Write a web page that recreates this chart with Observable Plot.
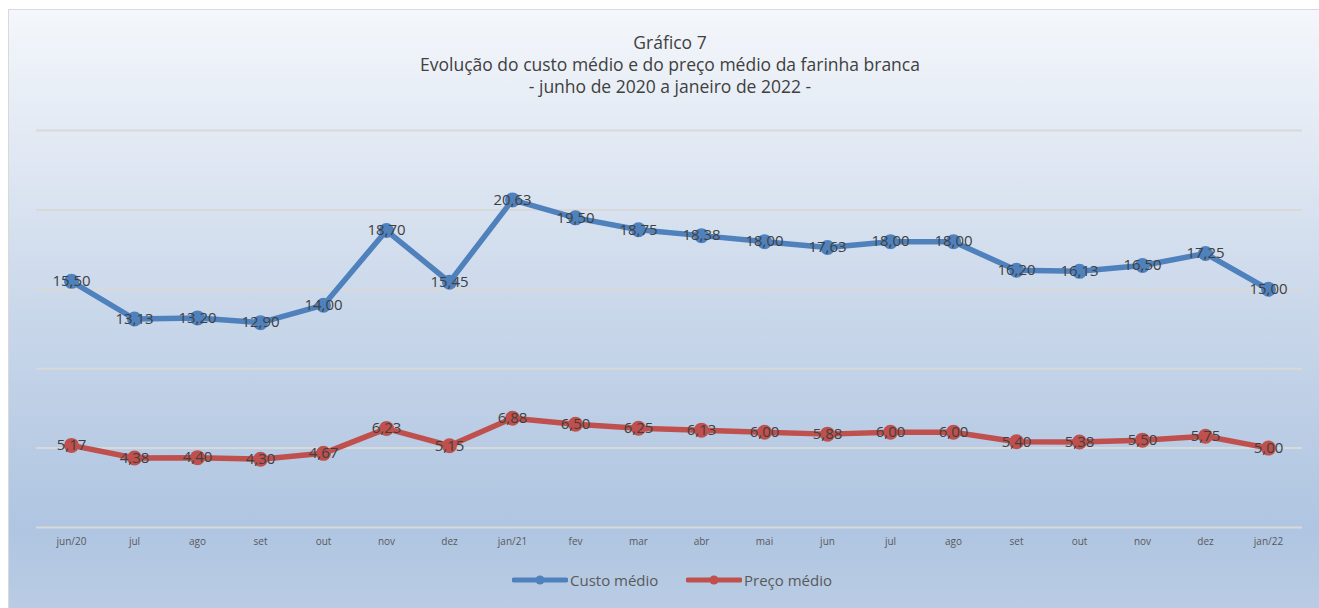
<!DOCTYPE html>
<html>
<head>
<meta charset="utf-8">
<script src="https://cdn.jsdelivr.net/npm/d3@7"></script>
<script src="https://cdn.jsdelivr.net/npm/@observablehq/plot@0.6"></script>
<style>
  html, body { margin: 0; padding: 0; background: #ffffff; }
  #wrap { position: relative; width: 1319px; height: 608px; overflow: hidden; font-family: "Open Sans", "Noto Sans", sans-serif; }
  #frame { position: absolute; left: 8px; top: 9px; width: 1320px; height: 610px; border-top: 1.5px solid #d9d9d9; border-left: 1.5px solid #d9d9d9;
    background: linear-gradient(to bottom, #f4f7fb 0%, #e3eaf4 20%, #c9d7ea 50%, #afc5e1 85%, #bccde5 100%); }
  #title { position: absolute; left: 0; width: 1340px; top: 31px; text-align: center; color: #404040; font-size: 17.5px; line-height: 22px; }
  #chart { position: absolute; left: 0; top: 0; }
  #legend { position: absolute; top: 570px; left: 0; width: 1319px; height: 20px; font-size: 15px; color: #595959; }
  .lg { position: absolute; top: 0; display: flex; align-items: center; height: 20px; }
  .lg svg { margin-right: 2px; }
</style>
</head>
<body>
<div id="wrap">
  <div id="frame"></div>
  <div id="title">Gráfico 7<br>Evolução do custo médio e do preço médio da farinha branca<br>- junho de 2020 a janeiro de 2022 -</div>
  <div id="chart"></div>
  <div id="legend">
    <div class="lg" style="left:512px"><svg width="56" height="10"><line x1="2" x2="54" y1="5" y2="5" stroke="#4f81bd" stroke-width="5" stroke-linecap="round"/><circle cx="28" cy="5" r="4.5" fill="#4f81bd"/></svg><span>Custo médio</span></div>
    <div class="lg" style="left:686px"><svg width="56" height="10"><line x1="2" x2="54" y1="5" y2="5" stroke="#c0504d" stroke-width="5" stroke-linecap="round"/><circle cx="28" cy="5" r="4.5" fill="#c0504d"/></svg><span>Preço médio</span></div>
  </div>
</div>
<script>
const months = ["jun/20","jul","ago","set","out","nov","dez","jan/21","fev","mar","abr","mai","jun","jul","ago","set","out","nov","dez","jan/22"];
const custo = [15.50,13.13,13.20,12.90,14.00,18.70,15.45,20.63,19.50,18.75,18.38,18.00,17.63,18.00,18.00,16.20,16.13,16.50,17.25,15.00];
const preco = [5.17,4.38,4.40,4.30,4.67,6.23,5.15,6.88,6.50,6.25,6.13,6.00,5.88,6.00,6.00,5.40,5.38,5.50,5.75,5.00];
const gridValues = [0,5,10,15,20,25];

const custoData = custo.map((v,i) => ({i, v}));
const precoData = preco.map((v,i) => ({i, v}));
const fmt = v => v.toFixed(2).replace(".", ",");

const plot = Plot.plot({
  width: 1319,
  height: 560,
  marginTop: 130,
  marginBottom: 33,
  marginLeft: 36,
  marginRight: 17,
  style: { background: "transparent", fontFamily: "'Open Sans', 'Noto Sans', sans-serif", overflow: "visible" },
  x: { type: "point", domain: d3.range(months.length), padding: 0.5, axis: null },
  y: { domain: [0, 25], axis: null },
  marks: [
    Plot.ruleY(gridValues, { stroke: "#d9d9d9", strokeWidth: 2 }),
    Plot.axisX({ tickSize: 0, tickPadding: 10, tickFormat: i => months[i], fontSize: 10, fill: "#595959", label: null }),
    Plot.line(custoData, { x: "i", y: "v", stroke: "#4f81bd", strokeWidth: 5.5, strokeLinejoin: "round" }),
    Plot.dot(custoData, { x: "i", y: "v", fill: "#4f81bd", r: 7.5 }),
    Plot.line(precoData, { x: "i", y: "v", stroke: "#c0504d", strokeWidth: 5.5, strokeLinejoin: "round" }),
    Plot.dot(precoData, { x: "i", y: "v", fill: "#c0504d", r: 7.5 }),
    Plot.text(custoData, { x: "i", y: "v", text: d => fmt(d.v), fontSize: 15, fill: "#404040" }),
    Plot.text(precoData, { x: "i", y: "v", text: d => fmt(d.v), fontSize: 15, fill: "#404040" })
  ]
});
document.getElementById("chart").appendChild(plot);
</script>
</body>
</html>
